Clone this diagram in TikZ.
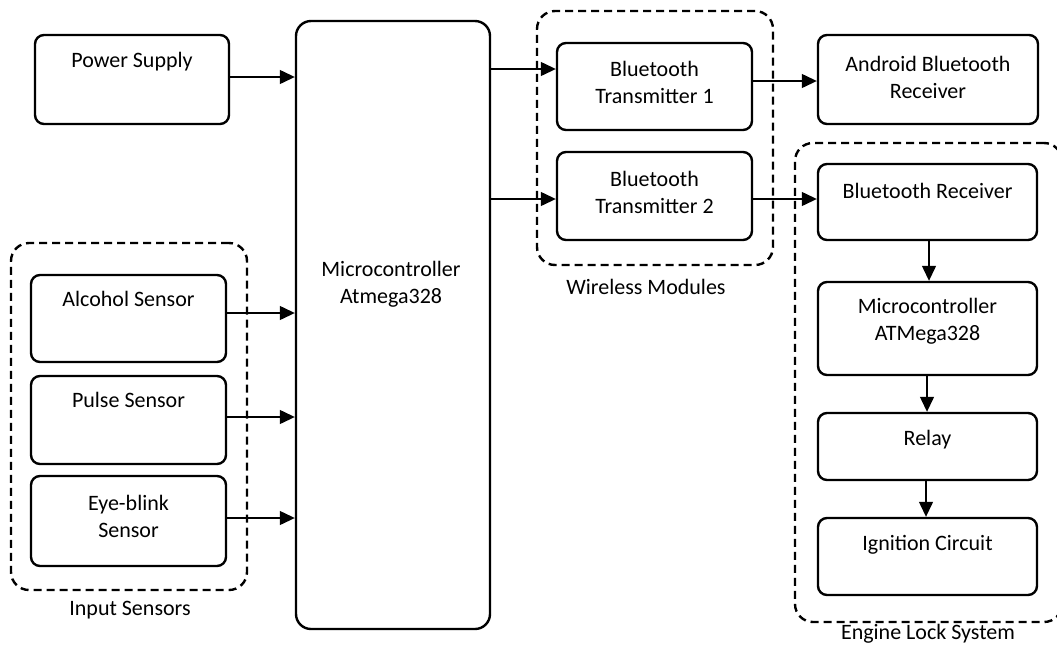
\documentclass[tikz,border=0pt]{standalone}
\usepackage{fontspec}
\setmainfont{Carlito}
\usetikzlibrary{arrows.meta}
\tikzset{
  box/.style={draw, line width=2.4pt, rounded corners=9pt, inner sep=0pt},
  bigbox/.style={draw, line width=2.4pt, rounded corners=15pt, inner sep=0pt},
  group/.style={draw, line width=2.4pt, dash pattern=on 8pt off 5pt, rounded corners=18pt, inner sep=0pt},
  txt/.style={align=center, inner sep=0pt, font=\fontsize{22}{27}\selectfont},
  arr/.style={line width=1.3pt, -{Triangle[length=15pt,width=14pt]}}
}
\begin{document}
\begin{tikzpicture}[x=1pt,y=-1pt]
\useasboundingbox (0,0) rectangle (1057,646);
% groups
\node[group, minimum width=236pt, minimum height=347pt] (inp) at (129,416.5) {};
\node[txt] (inpl) at (130,610) {Input Sensors};
\node[group, minimum width=236pt, minimum height=254pt] (wir) at (655,138) {};
\node[txt] (wirl) at (646,287) {Wireless Modules};
\node[group, minimum width=267pt, minimum height=479pt] (eng) at (928.5,382.5) {};
\node[txt] (engl) at (928,634) {Engine Lock System};
% boxes
\node[box, minimum width=194pt, minimum height=89pt] (ps) at (132,79.5) {};
\node[txt] (pst) at (132,62) {Power Supply};
\node[bigbox, minimum width=194pt, minimum height=608pt] (mcu) at (393,325) {};
\node[txt] (mcut) at (391,284) {Microcontroller\\Atmega328};
\node[box, minimum width=195pt, minimum height=87pt] (alc) at (128.5,318.5) {};
\node[txt] (alct) at (128.5,299) {Alcohol Sensor};
\node[box, minimum width=195pt, minimum height=88pt] (pul) at (128.5,420) {};
\node[txt] (pult) at (128.5,400) {Pulse Sensor};
\node[box, minimum width=195pt, minimum height=90pt] (eye) at (128.5,521) {};
\node[txt] (eyet) at (128.5,516.5) {Eye-blink\\Sensor};
\node[box, minimum width=195pt, minimum height=87pt] (bt1) at (654.5,86.5) {};
\node[txt] (bt1t) at (654.5,82) {Bluetooth\\Transmitter 1};
\node[box, minimum width=195pt, minimum height=88pt] (bt2) at (654.5,196) {};
\node[txt] (bt2t) at (654.5,192) {Bluetooth\\Transmitter 2};
\node[box, minimum width=220pt, minimum height=89pt] (and) at (928,79.5) {};
\node[txt] (andt) at (928,77) {Android Bluetooth\\Receiver};
\node[box, minimum width=219pt, minimum height=76pt] (btr) at (927.5,202) {};
\node[txt] (btrt) at (927.5,191) {Bluetooth Receiver};
\node[box, minimum width=219pt, minimum height=93pt] (mc2) at (927.5,328.5) {};
\node[txt] (mc2t) at (927.5,321) {Microcontroller\\ATMega328};
\node[box, minimum width=219pt, minimum height=67pt] (rel) at (927.5,446.5) {};
\node[txt] (relt) at (927.5,440) {Relay};
\node[box, minimum width=219pt, minimum height=77pt] (ign) at (927.5,556.5) {};
\node[txt] (ignt) at (927.5,545) {Ignition Circuit};
% connectors
\draw[arr] (ps.east |- 0,77) -- (mcu.west |- 0,77);
\draw[arr] (alc.east |- 0,313) -- (mcu.west |- 0,313);
\draw[arr] (pul.east |- 0,417) -- (mcu.west |- 0,417);
\draw[arr] (eye.east |- 0,518) -- (mcu.west |- 0,518);
\draw[arr] (mcu.east |- 0,69) -- (bt1.west |- 0,69);
\draw[arr] (mcu.east |- 0,199) -- (bt2.west |- 0,199);
\draw[arr] (bt1.east |- 0,81) -- (and.west |- 0,81);
\draw[arr] (bt2.east |- 0,199) -- (btr.west |- 0,199);
\draw[arr] (btr.south -| 929,0) -- (mc2.north -| 929,0);
\draw[arr] (mc2.south -| 927,0) -- (rel.north -| 927,0);
\draw[arr] (rel.south -| 926,0) -- (ign.north -| 926,0);
\end{tikzpicture}
\end{document}
